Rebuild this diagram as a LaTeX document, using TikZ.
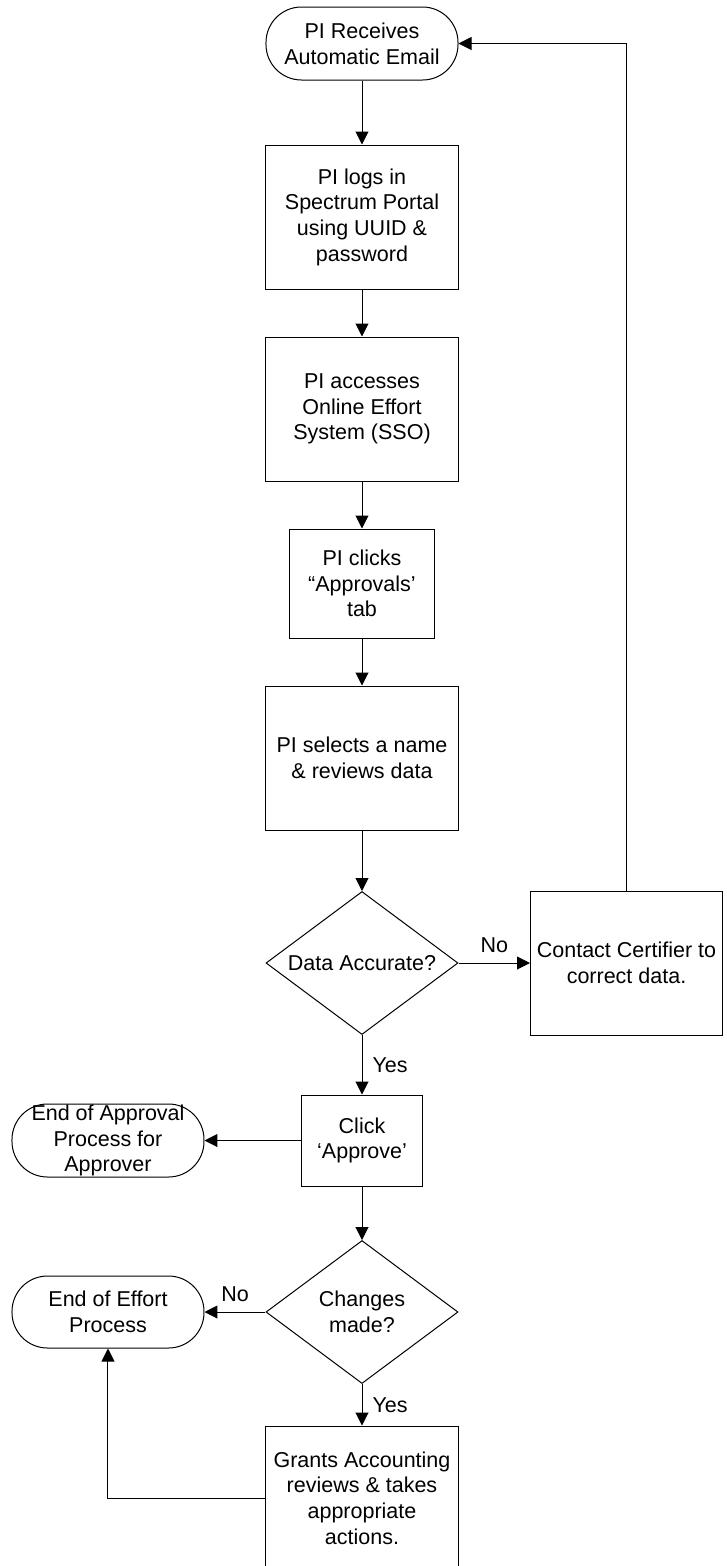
\documentclass[tikz,border=0pt]{standalone}
\usepackage{fontspec}
\setmainfont{Liberation Sans}
\usetikzlibrary{arrows.meta,shapes.geometric}

\begin{document}
\begin{tikzpicture}[->,>={Triangle[length=13pt,width=13pt]},auto,line width=1pt,
                    every node/.style={font=\fontsize{21.5}{25.7}\selectfont,align=center},
                    term/.style={rectangle,rounded corners=35.5pt,draw,inner sep=0pt,minimum width=192pt,minimum height=73pt},
                    block/.style={rectangle,draw,inner sep=0pt,minimum width=192pt,minimum height=144pt},
                    decision/.style={diamond,draw,aspect=1.34,inner sep=0pt,minimum width=192pt,minimum height=143pt},
                    lbl/.style={draw=none,inner sep=10pt}]

  \useasboundingbox (-362pt,43.5pt) rectangle (364pt,-1522.5pt);

  \node[term] (start)                                  {PI Receives\\Automatic Email};
  \node[block,node distance=173.5pt] (login) [below of=start]   {PI logs in\\Spectrum Portal\\using UUID \&\\password};
  \node[block,node distance=192pt] (access) [below of=login]    {PI accesses\\Online Effort\\System (SSO)};
  \node[block,minimum width=145pt,minimum height=109pt,node distance=174.5pt] (tab) [below of=access] {PI clicks\\“Approvals’\\tab};
  \node[block,node distance=174.5pt] (review) [below of=tab]    {PI selects a name\\\& reviews data};
  \node[decision,node distance=205pt] (accurate) [below of=review] {Data Accurate?};
  \node[block,node distance=264.5pt] (certifier) [right of=accurate] {Contact Certifier to\\correct data.};
  \node[block,minimum width=121pt,minimum height=91pt,node distance=177.5pt] (approve) [below of=accurate] {Click\\‘Approve’};
  \node[term,node distance=254pt] (endapprove) [left of=approve] {End of Approval\\Process for\\Approver};
  \node[decision,node distance=171.5pt] (changes) [below of=approve] {Changes\\made?};
  \node[term,minimum height=72pt,node distance=254pt] (endeffort) [left of=changes] {End of Effort\\Process};
  \node[block,node distance=186pt] (grants) [below of=changes]  {Grants Accounting\\reviews \& takes\\appropriate\\actions.};

  \path (start) edge (login);
  \path (login) edge (access);
  \path (access) edge (tab);
  \path (tab) edge (review);
  \path (review) edge (accurate);
  \path (accurate) edge node[lbl] {No} (certifier);
  \path (accurate) edge node[lbl] {Yes} (approve);
  \path (approve) edge (endapprove);
  \path (approve) edge (changes);
  \path (changes) edge node[lbl,swap] {No} (endeffort);
  \path (changes) edge node[lbl] {Yes} (grants);
  \draw (certifier) |- (start);
  \draw (grants) -| (endeffort);

\end{tikzpicture}
\end{document}
